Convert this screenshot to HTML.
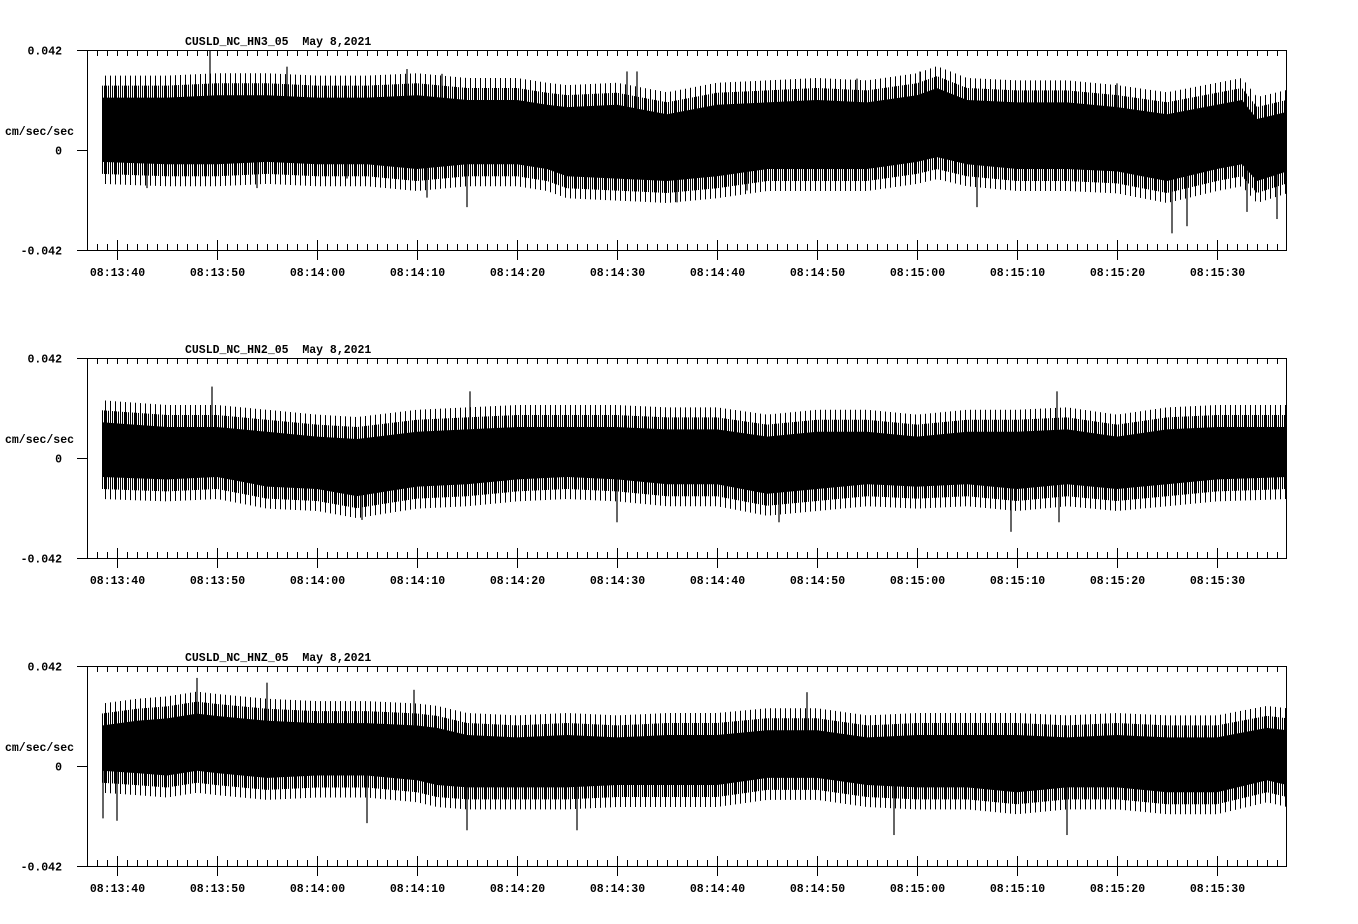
<!DOCTYPE html>
<html><head><meta charset="utf-8"><style>
html,body{margin:0;padding:0;background:#fff;}
svg{display:block;}
text{font-family:"Liberation Mono","DejaVu Sans Mono",monospace;font-weight:bold;font-size:11.5px;fill:#000;}
</style></head><body>
<svg id="chart" width="1358" height="924" viewBox="0 0 1358 924" xmlns="http://www.w3.org/2000/svg">
<defs>
<pattern id="fringe" width="2" height="4" patternUnits="userSpaceOnUse"><rect x="0" y="0" width="1" height="4" fill="#000"/></pattern>
<pattern id="fringe2" width="5" height="4" patternUnits="userSpaceOnUse"><rect x="0" y="0" width="1" height="4" fill="#000"/></pattern>
</defs>
</svg>
<script>
// ---- data (seconds after 08:13:00, values in cm/sec/sec) ----
const titles = ["CUSLD_NC_HN3_05  May 8,2021","CUSLD_NC_HN2_05  May 8,2021","CUSLD_NC_HNZ_05  May 8,2021"];
const tickLabels = ["08:13:40","08:13:50","08:14:00","08:14:10","08:14:20","08:14:30","08:14:40","08:14:50","08:15:00","08:15:10","08:15:20","08:15:30"];
const tickSeconds = [40,50,60,70,80,90,100,110,120,130,140,150];
const yTickLabels = ["0.042","0","-0.042"];
const yTickValues = [0.042,0,-0.042];

const t1 = [38.5,45,50,55,60,65,70,75,80,83,85,90,95,100,105,110,115,120,122,125,130,135,140,145,150,152.5,154,157];
const up1 = [0.022,0.022,0.023,0.023,0.022,0.022,0.023,0.021,0.021,0.019,0.018,0.019,0.015,0.019,0.020,0.021,0.020,0.023,0.026,0.021,0.020,0.020,0.018,0.015,0.019,0.021,0.013,0.016];
const lo1 = [-0.005,-0.006,-0.006,-0.005,-0.006,-0.006,-0.008,-0.006,-0.006,-0.008,-0.011,-0.012,-0.013,-0.011,-0.008,-0.008,-0.008,-0.005,-0.003,-0.006,-0.008,-0.008,-0.009,-0.013,-0.008,-0.006,-0.013,-0.009];
const spikeT1 = [49.3,57,69,72.5,91,92,120.3,114,140,43,54,63,71,75,96,103,126,145.5,147,153,156];
const spikeV1 = [0.042,0.035,0.034,0.032,0.033,0.033,0.033,0.030,0.028,-0.016,-0.016,-0.012,-0.020,-0.024,-0.022,-0.017,-0.024,-0.035,-0.032,-0.026,-0.029];

const t2 = [38.5,45,50,55,60,64,70,75,80,85,90,95,100,105,110,115,120,125,130,135,140,145,150,157];
const up2 = [0.015,0.013,0.013,0.011,0.009,0.008,0.011,0.012,0.013,0.013,0.013,0.012,0.012,0.009,0.011,0.011,0.009,0.011,0.011,0.012,0.009,0.012,0.013,0.013];
const lo2 = [-0.008,-0.009,-0.008,-0.012,-0.013,-0.016,-0.012,-0.011,-0.009,-0.008,-0.009,-0.011,-0.011,-0.015,-0.013,-0.011,-0.012,-0.011,-0.013,-0.011,-0.013,-0.011,-0.009,-0.008];
const spikeT2 = [49.5,75.3,134,64.5,90,106.2,129.4,134.2];
const spikeV2 = [0.030,0.028,0.028,-0.026,-0.027,-0.027,-0.031,-0.027];

const t3 = [38.5,42,45,48,50,55,60,65,70,72,75,80,85,90,95,100,105,110,115,120,125,130,135,140,145,150,155,157];
const up3 = [0.017,0.019,0.020,0.022,0.021,0.019,0.018,0.018,0.017,0.016,0.013,0.012,0.013,0.012,0.013,0.013,0.015,0.015,0.012,0.013,0.013,0.013,0.012,0.013,0.012,0.012,0.016,0.015];
const lo3 = [-0.002,-0.003,-0.004,-0.002,-0.003,-0.005,-0.004,-0.004,-0.006,-0.008,-0.009,-0.009,-0.009,-0.008,-0.008,-0.008,-0.005,-0.005,-0.008,-0.009,-0.009,-0.011,-0.009,-0.009,-0.011,-0.011,-0.006,-0.008];
const spikeT3 = [48,55,69.7,109,40,65,86,117.7,135,75,38.6];
const spikeV3 = [0.037,0.035,0.032,0.031,-0.023,-0.024,-0.027,-0.029,-0.029,-0.027,-0.022];

const panels = [
  {top:50, t:t1, up:up1, lo:lo1, st:spikeT1, sv:spikeV1},
  {top:358, t:t2, up:up2, lo:lo2, st:spikeT2, sv:spikeV2},
  {top:666, t:t3, up:up3, lo:lo3, st:spikeT3, sv:spikeV3}
];

const NS="http://www.w3.org/2000/svg";
const svg=document.getElementById('chart');
const X0=87, X1=1286, H=200;
function xs(t){return 117+10*(t-40);}
function mk(tag,attrs,parent){const e=document.createElementNS(NS,tag);for(const k in attrs)e.setAttribute(k,attrs[k]);(parent||svg).appendChild(e);return e;}

panels.forEach((p,i)=>{
  const g=mk('g',{});
  
  
  const ys=v=>p.top+H/2-v/0.042*(H/2);
  function band(ext){
    return p.t.map((t,j)=>xs(t)+','+(ys(p.up[j])-ext)).join(' ')+' '+p.t.slice().reverse().map((t,j)=>{const k=p.t.length-1-j;return xs(t)+','+(ys(p.lo[k])+ext);}).join(' ');
  }
  const fr2=mk('polygon',{points:band(22),fill:'url(#fringe2)'},g);
  
  
  const fr=mk('polygon',{points:band(12),fill:'url(#fringe)'},g);
  
  
  const co=mk('polygon',{points:band(0),fill:'#000'},g);
  
  
  p.st.forEach((t,j)=>{
    const v=p.sv[j];
    const l=mk('line',{x1:xs(t),x2:xs(t),y1:ys(0.004),y2:ys(v),stroke:'#000','stroke-width':1.2},g);
    
    
  });
  const fb=mk('rect',{x:X0+0.5,y:p.top+0.5,width:X1-X0,height:H,fill:'none',stroke:'#000','stroke-width':1},g);
  
  
  for(let x=97;x<X1;x+=10){
    mk('line',{x1:x+0.5,x2:x+0.5,y1:p.top+H,y2:p.top+H-6,stroke:'#000'},g);
    mk('line',{x1:x+0.5,x2:x+0.5,y1:p.top,y2:p.top+6,stroke:'#000'},g);
  }
  tickSeconds.forEach((s,j)=>{
    const x=xs(s)+0.5;
    mk('line',{x1:x,x2:x,y1:p.top+H-10,y2:p.top+H+10,stroke:'#000'},g);
    const tx=mk('text',{x:x,y:p.top+H+26,'text-anchor':'middle'},g);
    tx.textContent=tickLabels[j];
    
    
  });
  yTickValues.forEach((v,j)=>{
    const y=ys(v)+0.5;
    mk('line',{x1:77,x2:X0,y1:y,y2:y,stroke:'#000'},g);
    const tx=mk('text',{x:62,y:y+4,'text-anchor':'end'},g);
    tx.textContent=yTickLabels[j];
    
    
  });
  const yl=mk('text',{x:5,y:p.top+85},g);
  yl.textContent='cm/sec/sec';
  
  
  const tt=mk('text',{x:185,y:p.top-5},g);
  tt.setAttribute('xml:space','preserve');
  tt.style.whiteSpace='pre';
  tt.textContent=titles[i];
  
  
});
</script>
</body></html>
